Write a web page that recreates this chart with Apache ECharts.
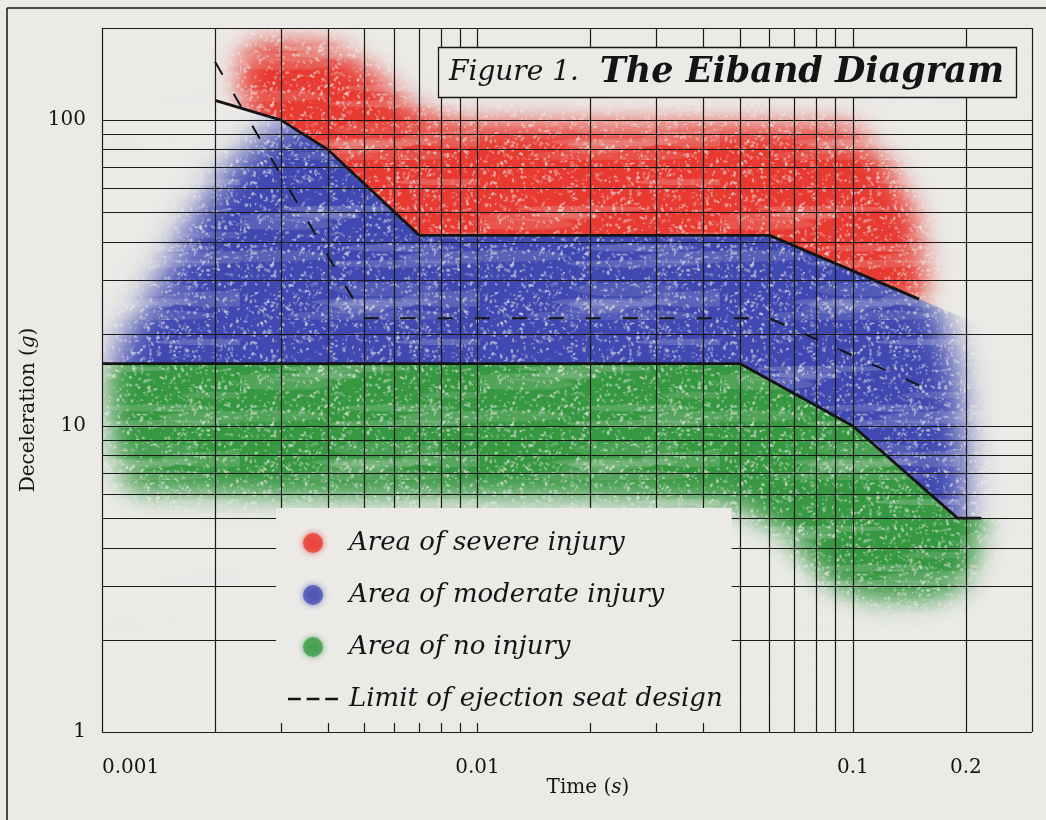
<!DOCTYPE html>
<html><head><meta charset="utf-8">
<style>html,body{margin:0;padding:0;background:#ebeae7;} #chart{width:1046px;height:820px;}</style>
<script src="https://cdn.jsdelivr.net/npm/echarts@6/dist/echarts.min.js"></script>
</head><body><div id="chart"></div>
<script>
// ---------------- data ----------------
const xGridValues = [0.001,0.002,0.003,0.004,0.005,0.006,0.007,0.008,0.009,0.01,0.02,0.03,0.04,0.05,0.06,0.07,0.08,0.09,0.1,0.2,0.3];
const yGridValues = [1,2,3,4,5,6,7,8,9,10,20,30,40,50,60,70,80,90,100,200];
const xTickValues = [0.001,0.01,0.1,0.2];
const xTickLabels = ['0.001','0.01','0.1','0.2'];
const yTickValues = [1,10,100];
const yTickLabels = ['1','10','100'];

// boundary lines (time s, deceleration g)
const severeBoundary = [[0.002,116],[0.003,100],[0.004,80],[0.007,42],[0.06,42],[0.15,26]];
const noInjuryBoundary = [[0.001,16],[0.05,16],[0.1,10],[0.19,5],[0.22,5]];
const ejectionSeatLimit = [[0.002,155],[0.005,22.5],[0.06,22.5],[0.17,12.7]];

// soft outer outlines of the sprayed areas
const severeOutline = [[0.00233,116],[0.00233,157],[0.00256,180],[0.00405,176],[0.0052,146],[0.0066,112],[0.0085,98.5],[0.099,96],[0.126,71],[0.147,49],[0.157,32],[0.152,25.4]];
const moderateLeftEdge = [[0.00108,16],[0.00115,19.5],[0.00138,28],[0.0017,45],[0.00215,68],[0.0026,86],[0.003,96]];
const moderateRightEdge = [[0.158,25.8],[0.172,23.4],[0.193,14.1],[0.198,8.5],[0.2,5.7]];
const noInjuryOutline = [[0.223,4.76],[0.217,4.08],[0.2,3.02],[0.161,2.7],[0.112,2.7],[0.087,3.02],[0.066,4.4],[0.0487,5.52],[0.0213,5.86],[0.0034,5.86],[0.00122,6.09],[0.0011,7.18],[0.00105,10.5],[0.00104,16]];

const seriesNames = ['Area of severe injury','Area of moderate injury','Area of no injury','Limit of ejection seat design'];

// ---------------- styling ----------------
const BG = '#ebeae7';
const INK = '#141414';
const FONT = 'DejaVu Serif';
const RED = '#e83a31', BLUE = '#3f49b1', GREEN = '#379842';
const OFF = 4000;

function shiftY(pts, f){ return pts.map(p => [p[0], p[1]*f]); }
const UP = 1.35, DOWN = 0.74;
function extendLine(pts, xL, xR, keepFlat){
  const n = pts.length, a = pts[n-2], b = pts[n-1];
  let yR = b[1];
  if (!keepFlat) { const k = Math.log(b[1]/a[1])/Math.log(b[0]/a[0]); yR = b[1]*Math.pow(xR/b[0], k); }
  return [[xL, pts[0][1]]].concat(pts, [[xR, yR]]);
}
const upperExt = extendLine(severeBoundary, 1e-4, 0.5, false);
const lowerExt = extendLine(noInjuryBoundary, 1e-4, 0.5, true);

const severePoly = severeOutline.concat(shiftY(severeBoundary.filter(p => p[0] >= 0.003), DOWN).reverse());
const moderatePoly = [[moderateLeftEdge[0][0], noInjuryBoundary[0][1]*DOWN]].concat(
  moderateLeftEdge,
  shiftY(severeBoundary.filter(p => p[0] > 0.003), UP),
  moderateRightEdge,
  shiftY(noInjuryBoundary.filter(p => p[0] > moderateLeftEdge[0][0] && p[0] < 0.2), DOWN).reverse());
const noInjuryPoly = [[noInjuryOutline[noInjuryOutline.length-1][0], noInjuryBoundary[0][1]*UP]].concat(
  shiftY(noInjuryBoundary.filter(p => p[0] > 0.00104), UP), noInjuryOutline);

const severeClip = upperExt.concat([[0.5, 1e4],[1e-4, 1e4]]);
const moderateClip = upperExt.concat(lowerExt.slice().reverse());
const noInjuryClip = lowerExt.concat([[0.5, 0.01],[1e-4, 0.01]]);

// spray texture (soft light flecks), applied with a 'lighten' blend so it only shows on the coloured areas
function makeSprayTexture(){
  const W = 240, H = 160;
  const raw = document.createElement('canvas');
  raw.width = W; raw.height = H;
  const g = raw.getContext('2d');
  let s = 20240611;
  const rnd = () => { s = (s * 1664525 + 1013904223) >>> 0; return s / 4294967296; };
  g.fillStyle = BG;
  for (let i = 0; i < 16; i++) {
    g.globalAlpha = 0.10 + rnd()*0.14;
    g.beginPath();
    g.ellipse(rnd()*W, rnd()*H, 25 + rnd()*60, 3 + rnd()*5, 0, 0, Math.PI*2);
    g.fill();
  }
  for (let i = 0; i < 1500; i++) {
    g.globalAlpha = 0.18 + rnd()*0.45;
    g.beginPath();
    g.ellipse(rnd()*W, rnd()*H, 0.6 + rnd()*2.0, 0.5 + rnd()*1.1, rnd()*Math.PI, 0, Math.PI*2);
    g.fill();
  }
  const c = document.createElement('canvas');
  c.width = W; c.height = H;
  const g2 = c.getContext('2d');
  g2.filter = 'blur(0.7px)';
  g2.drawImage(raw, 0, 0);
  return c;
}
const sprayTexture = makeSprayTexture();

function regionRenderer(poly, clipPoly, color, blur){
  return function(params, api){
    const pts = poly.map(p => api.coord(p));
    const clipPts = clipPoly.map(p => api.coord(p));
    return {
      type: 'group',
      clipPath: { type: 'polygon', shape: { points: clipPts } },
      children: [{
        type: 'polygon', x: -OFF, silent: true,
        shape: { points: pts },
        style: { fill: color, shadowBlur: blur, shadowColor: color, shadowOffsetX: OFF, shadowOffsetY: 0 }
      }]
    };
  };
}
function textureRenderer(params, api){
  const a = api.coord([xGridValues[0], yGridValues[yGridValues.length-1]]);
  const b = api.coord([xGridValues[xGridValues.length-1], yGridValues[0]]);
  return {
    type: 'rect', silent: true,
    shape: { x: a[0], y: a[1], width: b[0]-a[0], height: b[1]-a[1] },
    style: { fill: { type: 'pattern', image: sprayTexture, repeat: 'repeat' }, blend: 'lighten' }
  };
}
function labelFor(v, vals, labs){
  for (let i = 0; i < vals.length; i++) if (Math.abs(Math.log10(v) - Math.log10(vals[i])) < 1e-6) return labs[i];
  return '';
}

const chart = echarts.init(document.getElementById('chart'), null, {renderer: 'canvas', devicePixelRatio: 1});
const option = {
  backgroundColor: BG,
  animation: false,
  title: {
    text: '{a|Figure 1.} {b|The Eiband Diagram}',
    left: 438, top: 45, padding: [8, 13, 7, 11], z: 10,
    borderColor: INK, borderWidth: 1.3, backgroundColor: BG,
    textStyle: { fontFamily: FONT, fontSize: 28, fontWeight: 'normal', color: INK,
      rich: {
        a: { fontFamily: FONT, fontStyle: 'italic', fontWeight: 'normal', fontSize: 28, color: INK, lineHeight: 40, padding: [0, 12, 0, 0] },
        b: { fontFamily: FONT, fontStyle: 'italic', fontWeight: 'bold', fontSize: 35, color: INK, lineHeight: 40 }
      } }
  },
  legend: {
    orient: 'vertical', left: 276, top: 508, padding: [20, 9, 9, 12], itemGap: 22,
    itemWidth: 50, itemHeight: 20, backgroundColor: BG, selectedMode: false, z: 10,
    textStyle: { fontFamily: FONT, fontStyle: 'italic', fontSize: 26, color: INK, lineHeight: 30, padding: [0,0,0,6] },
    data: [
      { name: seriesNames[0], icon: 'circle', itemStyle: { color: RED, shadowBlur: 6, shadowColor: RED, opacity: 0.75 } },
      { name: seriesNames[1], icon: 'circle', itemStyle: { color: BLUE, shadowBlur: 6, shadowColor: BLUE, opacity: 0.7 } },
      { name: seriesNames[2], icon: 'circle', itemStyle: { color: GREEN, shadowBlur: 6, shadowColor: GREEN, opacity: 0.7 } },
      { name: seriesNames[3], icon: 'path://M0,0h11v2h-11z M16,0h11v2h-11z M32,0h11v2h-11z', itemStyle: { color: INK } }
    ]
  },
  grid: { left: 102, right: 14, top: 28, bottom: 88, outerBoundsMode: 'none', containLabel: false },
  xAxis: {
    type: 'log', logBase: 10, min: 0.001, max: 0.3,
    axisLine: { show: false }, axisTick: { show: false }, splitLine: { show: false },
    axisLabel: { customValues: xTickValues, formatter: v => labelFor(v, xTickValues, xTickLabels),
      fontFamily: FONT, fontSize: 20, color: INK, margin: 26, alignMinLabel: 'left' },
    name: 'Time ({i|s})', nameLocation: 'middle', nameGap: 46, nameMoveOverlap: false,
    nameTextStyle: { fontFamily: FONT, fontSize: 20, color: INK, padding: [0,0,0,42],
      rich: { i: { fontFamily: FONT, fontStyle: 'italic', fontSize: 20, color: INK } } }
  },
  yAxis: {
    type: 'log', logBase: 10, min: 1, max: 200,
    axisLine: { show: false }, axisTick: { show: false }, splitLine: { show: false },
    axisLabel: { customValues: yTickValues, formatter: v => labelFor(v, yTickValues, yTickLabels),
      fontFamily: FONT, fontSize: 20, color: INK, margin: 16 },
    name: 'Deceleration ({i|g})', nameLocation: 'middle', nameRotate: 90, nameGap: 63, nameMoveOverlap: false,
    nameTextStyle: { fontFamily: FONT, fontSize: 20, color: INK, padding: [0,60,0,0],
      rich: { i: { fontFamily: FONT, fontStyle: 'italic', fontSize: 20, color: INK } } }
  },
  graphic: [
    { type: 'line', shape: { x1: 7, y1: 8, x2: 1046, y2: 8 }, style: { stroke: INK, lineWidth: 1.5 }, silent: true },
    { type: 'line', shape: { x1: 7, y1: 8, x2: 7, y2: 820 }, style: { stroke: INK, lineWidth: 1.5 }, silent: true }
  ],
  series: [
    { type: 'custom', name: seriesNames[1], coordinateSystem: 'cartesian2d', clip: true, silent: true, z: 1,
      itemStyle: { color: BLUE }, data: [severeBoundary[0]], renderItem: regionRenderer(moderatePoly, moderateClip, BLUE, 32) },
    { type: 'custom', name: seriesNames[0], coordinateSystem: 'cartesian2d', clip: true, silent: true, z: 1,
      itemStyle: { color: RED }, data: [severeBoundary[0]], renderItem: regionRenderer(severePoly, severeClip, RED, 26) },
    { type: 'custom', name: seriesNames[2], coordinateSystem: 'cartesian2d', clip: true, silent: true, z: 1,
      itemStyle: { color: GREEN }, data: [severeBoundary[0]], renderItem: regionRenderer(noInjuryPoly, noInjuryClip, GREEN, 26) },
    { type: 'custom', name: 'texture', coordinateSystem: 'cartesian2d', clip: true, silent: true, z: 1,
      data: [severeBoundary[0]], renderItem: textureRenderer },
    { type: 'line', name: 'grid', data: [], z: 2, silent: true,
      markLine: { silent: true, precision: 8, symbol: ['none','none'], label: { show: false }, animation: false,
        lineStyle: { color: '#1a1a1a', width: 1.2, type: 'solid' }, emphasis: { disabled: true },
        data: xGridValues.map(v => ({ xAxis: v })).concat(yGridValues.map(v => ({ yAxis: v }))) } },
    { type: 'line', name: 'severeBoundary', data: severeBoundary, symbol: 'none', z: 3, silent: true,
      lineStyle: { color: INK, width: 2.8 } },
    { type: 'line', name: 'noInjuryBoundary', data: noInjuryBoundary, symbol: 'none', z: 3, silent: true,
      lineStyle: { color: INK, width: 2.8 } },
    { type: 'line', name: seriesNames[3], data: ejectionSeatLimit, symbol: 'none', z: 3, silent: true,
      itemStyle: { color: INK }, lineStyle: { color: INK, width: 2, type: [15, 22] } }
  ]
};
chart.setOption(option);
</script>
</body></html>
